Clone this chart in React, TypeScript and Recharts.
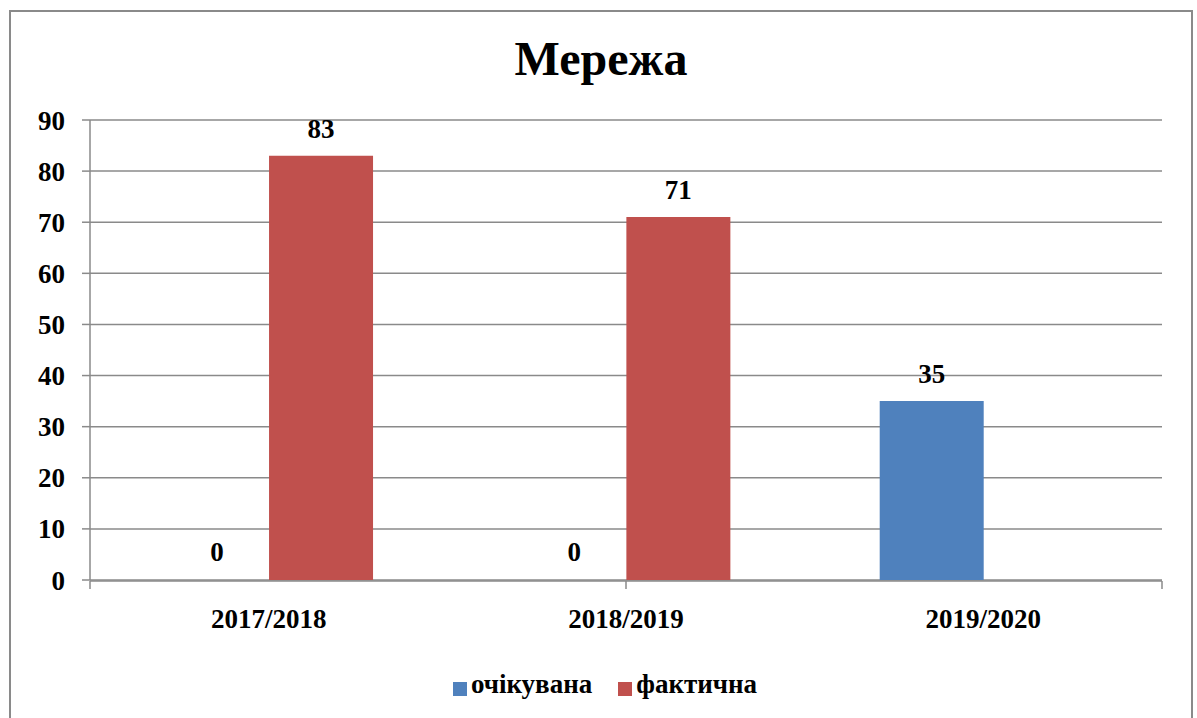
import React from "react"
import {
  Bar,
  BarChart,
  CartesianGrid,
  Cell,
  LabelList,
  Legend,
  XAxis,
  YAxis,
} from "recharts"

const years = ["2017/2018", "2018/2019", "2019/2020"]
const expected = [0, 0, 35]
const actual: (number | null)[] = [83, 71, null]
const yTicks = [0, 10, 20, 30, 40, 50, 60, 70, 80, 90]
const edgeTicks = [0, 1, 2, 3]

const data = years.map((year, i) => ({
  year,
  expected: expected[i],
  actual: actual[i],
}))

const FONT = '"Liberation Serif", "Times New Roman", serif'
const LINE = "#8a8a8a"
const BLUE = "#4F81BD"
const RED = "#C0504D"

const tickStyle = { fill: "#000", fontSize: 27, fontWeight: 700, fontFamily: FONT }

// draws the value above the bar, also when the value is 0
function ValueLabel(props: any) {
  const box = props.viewBox && props.viewBox.x !== undefined ? props.viewBox : props
  const value = props.value
  if (value === null || value === undefined || value === "") return null
  return (
    <text
      x={Number(box.x) + Number(box.width) / 2}
      y={Number(box.y) - 18}
      textAnchor="middle"
      style={tickStyle}
    >
      {value}
    </text>
  )
}

export default function App() {
  return (
    <div style={{ position: "absolute", left: 0, top: 0, width: 1197, height: 718, background: "#fff", overflow: "hidden", fontFamily: FONT }}>
      <div
        style={{
          position: "absolute",
          left: 9,
          top: 10,
          width: 1180,
          height: 740,
          border: `2px solid ${LINE}`,
        }}
      />
      <div
        style={{
          position: "absolute",
          left: 0,
          width: 1202,
          top: 31,
          textAlign: "center",
          fontSize: 48,
          fontWeight: 700,
          color: "#000",
        }}
      >
        Мережа
      </div>
      <div style={{ position: "absolute", left: 0, top: 0 }}>
        <BarChart
          width={1197}
          height={718}
          data={data}
          margin={{ top: 120, right: 35, left: 10, bottom: 47 }}
          barCategoryGap="21%"
          barGap={0}
        >
          <CartesianGrid vertical={false} stroke={LINE} strokeWidth={1.5} />
          <XAxis
            xAxisId="cat"
            dataKey="year"
            height={1}
            axisLine={false}
            tickLine={false}
            tickSize={0}
            tickMargin={29}
            tick={tickStyle}
          />
          <XAxis
            xAxisId="edge"
            type="number"
            domain={[0, 3]}
            ticks={edgeTicks}
            interval={0}
            allowDataOverflow
            height={59}
            tickFormatter={() => ""}
            tickSize={8}
            axisLine={{ stroke: LINE, strokeWidth: 1.5 }}
            tickLine={{ stroke: LINE, strokeWidth: 1.5 }}
          />
          <YAxis
            width={80}
            domain={[0, 90]}
            ticks={yTicks}
            interval={0}
            tickSize={8}
            tickMargin={17}
            axisLine={{ stroke: LINE, strokeWidth: 1.5 }}
            tickLine={{ stroke: LINE, strokeWidth: 1.5 }}
            tick={tickStyle}
          />
          <Legend
            verticalAlign="bottom"
            iconType="square"
            iconSize={14}
            wrapperStyle={{ top: 669, bottom: "auto", left: 0, width: 1236 }}
            formatter={(value) => (
              <span style={{ color: "#000", fontSize: 27, fontWeight: 700, fontFamily: FONT, paddingRight: 16 }}>{value}</span>
            )}
          />
          <Bar xAxisId="cat" dataKey="expected" name="очікувана" fill={BLUE} minPointSize={1} isAnimationActive={false}>
            {expected.map((v, i) => (
              <Cell key={i} fill={v === 0 ? "transparent" : BLUE} />
            ))}
            <LabelList dataKey="expected" content={ValueLabel} />
          </Bar>
          <Bar xAxisId="cat" dataKey="actual" name="фактична" fill={RED} isAnimationActive={false}>
            <LabelList dataKey="actual" content={ValueLabel} />
          </Bar>
        </BarChart>
      </div>
    </div>
  )
}
